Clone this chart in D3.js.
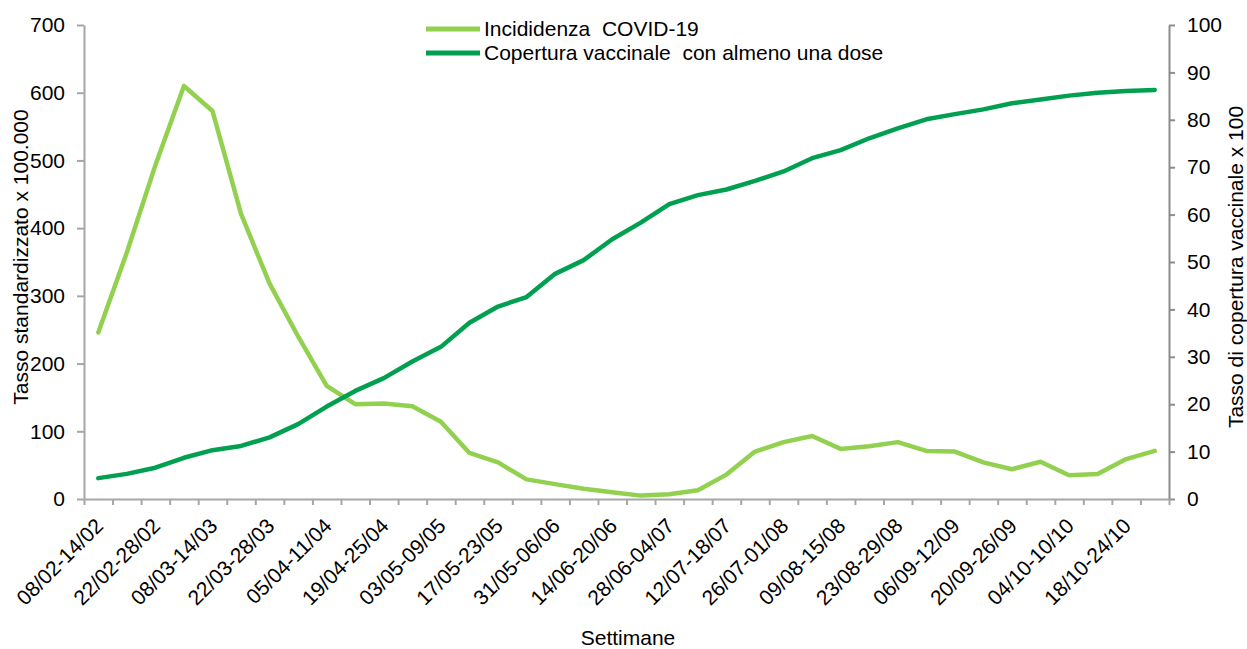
<!DOCTYPE html>
<html>
<head>
<meta charset="utf-8">
<script src="https://cdn.jsdelivr.net/npm/d3@7"></script>
<style>
  body { margin: 0; background: #fff; }
  text { font-family: "Liberation Sans", Arial, sans-serif; fill: #000; }
</style>
</head>
<body>
<script>
// weeks (2021)
var weeks = ["08/02-14/02","15/02-21/02","22/02-28/02","01/03-07/03","08/03-14/03","15/03-21/03",
  "22/03-28/03","29/03-04/04","05/04-11/04","12/04-18/04","19/04-25/04","26/04-02/05",
  "03/05-09/05","10/05-16/05","17/05-23/05","24/05-30/05","31/05-06/06","07/06-13/06",
  "14/06-20/06","21/06-27/06","28/06-04/07","05/07-11/07","12/07-18/07","19/07-25/07",
  "26/07-01/08","02/08-08/08","09/08-15/08","16/08-22/08","23/08-29/08","30/08-05/09",
  "06/09-12/09","13/09-19/09","20/09-26/09","27/09-03/10","04/10-10/10","11/10-17/10",
  "18/10-24/10","25/10-31/10"];

// incidenza x 100.000
var incidenza = [246,364,493,610,573,421,318,240,167,140,141,137,114,68,54,29,22,15,10,5,
  7,13,36,70,84,93,74,78,84,71,70,54,44,55,35,37,59,71];

// copertura vaccinale (%)
var copertura = [4.4,5.3,6.6,8.7,10.3,11.2,13.0,15.8,19.5,22.8,25.5,29.0,32.1,37.2,40.6,42.6,
  47.5,50.4,54.8,58.3,62.2,64.1,65.3,67.1,69.1,71.9,73.6,76.1,78.2,80.1,81.2,82.2,83.5,
  84.3,85.1,85.7,86.1,86.3];

var leftTicks = [0,100,200,300,400,500,600,700];
var rightTicks = [0,10,20,30,40,50,60,70,80,90,100];

var W = 1247, H = 649, FS = 21;
var x0 = 84, x1 = 1169, yTop = 25, yBot = 499;

var svg = d3.select("body").append("svg")
  .attr("width", W).attr("height", H);

var x = d3.scaleBand().domain(weeks).range([x0, x1]).padding(0);
var bw = x.bandwidth();
var xEdge = d3.scaleLinear().domain([0, weeks.length]).range([x0, x1]);
var yL = d3.scaleLinear().domain([0, 700]).range([yBot, yTop]);
var yR = d3.scaleLinear().domain([0, 100]).range([yBot, yTop]);

function styleAxis(g, col) {
  g.select(".domain").attr("stroke", col).attr("stroke-width", 2);
  g.selectAll(".tick line").attr("stroke", col).attr("stroke-width", 2);
  g.selectAll(".tick text").attr("font-size", FS).attr("fill", "#000")
    .style("font-family", "'Liberation Sans', Arial, sans-serif");
}

// left axis
var gl = svg.append("g").attr("transform", "translate(" + x0 + ",0)")
  .call(d3.axisLeft(yL).tickValues(leftTicks).tickSize(7).tickSizeOuter(0).tickPadding(12));
styleAxis(gl, "#a6a6a6");

// right axis
var gr = svg.append("g").attr("transform", "translate(" + x1 + ",0)")
  .call(d3.axisRight(yR).tickValues(rightTicks).tickSize(6).tickSizeOuter(0).tickPadding(12));
styleAxis(gr, "#8c8c8c");

// bottom axis: ticks at week boundaries
var gb = svg.append("g").attr("transform", "translate(0," + yBot + ")")
  .call(d3.axisBottom(xEdge).tickValues(d3.range(weeks.length + 1)).tickSize(6)
    .tickSizeOuter(0).tickFormat(""));
styleAxis(gb, "#a6a6a6");

// week labels, every other week
svg.append("g").selectAll("text")
  .data(weeks.filter(function(d, i) { return i % 2 === 0; }))
  .enter().append("text")
  .attr("transform", function(d) {
    return "translate(" + (x(d) + bw / 2 + 1) + "," + (yBot + 23) + ") rotate(-45)";
  })
  .attr("text-anchor", "end")
  .attr("dy", "0.35em")
  .attr("font-size", FS)
  .text(function(d) { return d; });

// lines
var lineInc = d3.line()
  .x(function(d, i) { return x(weeks[i]) + bw / 2; })
  .y(function(d) { return yL(d); });
var lineCop = d3.line()
  .x(function(d, i) { return x(weeks[i]) + bw / 2; })
  .y(function(d) { return yR(d); });

svg.append("path").datum(incidenza)
  .attr("d", lineInc).attr("fill", "none")
  .attr("stroke", "#92d050").attr("stroke-width", 4.5)
  .attr("stroke-linejoin", "round").attr("stroke-linecap", "round");

svg.append("path").datum(copertura)
  .attr("d", lineCop).attr("fill", "none")
  .attr("stroke", "#00a050").attr("stroke-width", 4.5)
  .attr("stroke-linejoin", "round").attr("stroke-linecap", "round");

// axis titles
svg.append("text")
  .attr("transform", "translate(28,257) rotate(-90)")
  .attr("text-anchor", "middle").attr("font-size", FS)
  .text("Tasso standardizzato x 100.000");

svg.append("text")
  .attr("transform", "translate(1243,267) rotate(-90)")
  .attr("text-anchor", "middle").attr("font-size", FS)
  .text("Tasso di copertura vaccinale x 100");

svg.append("text")
  .attr("x", 628).attr("y", 645)
  .attr("text-anchor", "middle").attr("font-size", FS)
  .text("Settimane");

// legend
var legend = [
  { name: "Incididenza  COVID-19", color: "#92d050" },
  { name: "Copertura vaccinale  con almeno una dose", color: "#00a050" }
];
var lg = svg.append("g").selectAll("g").data(legend).enter().append("g")
  .attr("transform", function(d, i) { return "translate(426," + (29 + i * 24) + ")"; });
lg.append("line").attr("x1", 0).attr("x2", 54)
  .attr("stroke", function(d) { return d.color; }).attr("stroke-width", 5);
lg.append("text").attr("x", 58).attr("dy", "0.35em").attr("font-size", FS)
  .style("white-space", "pre")
  .text(function(d) { return d.name; });
</script>
</body>
</html>
